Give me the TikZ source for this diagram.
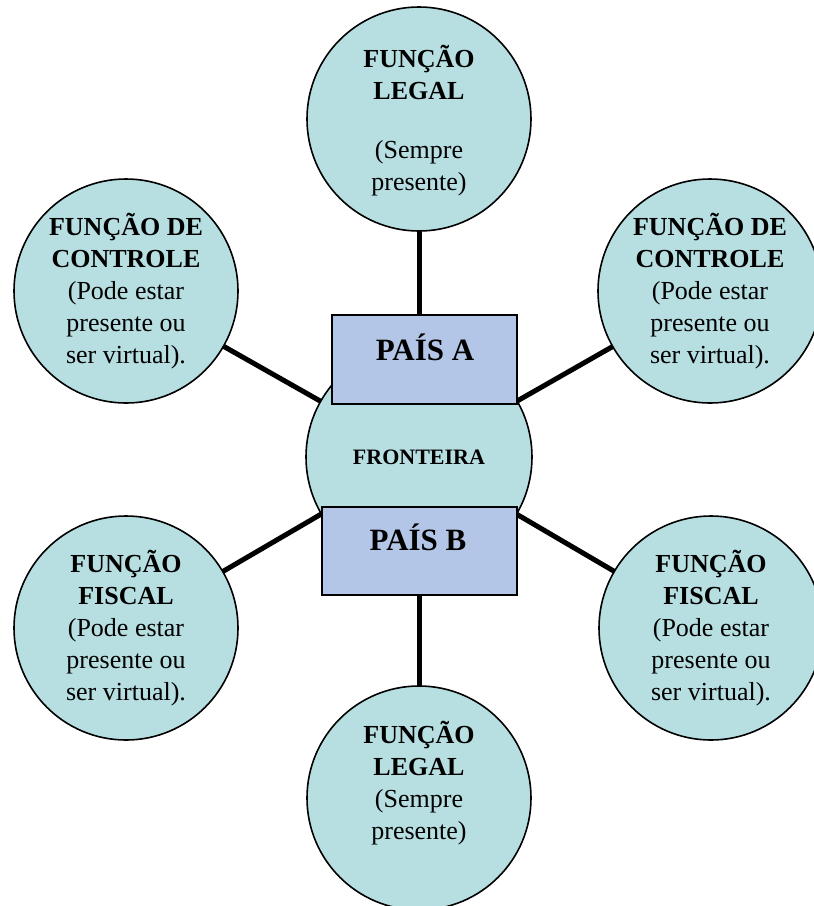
\documentclass[tikz,border=0pt]{standalone}
\usepackage{fontspec}
\setmainfont{Liberation Serif}
\usetikzlibrary{positioning,backgrounds}
\definecolor{circfill}{HTML}{B7DFE1}
\definecolor{boxfill}{HTML}{B4C6E7}
\tikzset{funcao/.style={circle, draw, line width=1.6pt, fill=circfill, minimum size=224pt, inner sep=0pt}}
\tikzset{texto/.style={align=center, inner sep=0pt, font=\fontsize{26}{32}\selectfont}}
\tikzset{pais/.style={rectangle, draw, line width=1.6pt, fill=boxfill, inner sep=0pt}}
\tikzset{ligacao/.style={line width=5pt}}

\begin{document}
\begin{tikzpicture}[x=1pt,y=-1pt]
      \useasboundingbox (0,0) rectangle (814,906);
      % circulos das funcoes
      \node[funcao] (legalA) at (419,119) {};
      \node[funcao] (controleE) at (126,291) {};
      \node[funcao] (controleD) at (710,291) {};
      \node[funcao] (fiscalE) at (126,628) {};
      \node[funcao] (fiscalD) at (711,628) {};
      \node[funcao] (legalB) at (419,798) {};
      \node[funcao, minimum size=226pt] (fronteira) at (419,457) {};
      % ligacoes
      \begin{scope}[on background layer]
        \foreach \f in {legalA,controleE,controleD,fiscalE,fiscalD,legalB}
          \draw[ligacao] (\f.center) -- (fronteira.center);
      \end{scope}
      % paises
      \node[pais, minimum width=185pt, minimum height=89pt] (paisA) at (424.5,359.5) {};
      \node[pais, minimum width=195pt, minimum height=88pt] (paisB) at (419.5,551) {};
      % textos
      \node[texto] (legalAtxt) at (419,121) {\textbf{FUNÇÃO}\\\textbf{LEGAL}\\[27pt](Sempre\\presente)};
      \node[texto] (controleEtxt) at (controleE) {\textbf{FUNÇÃO DE}\\\textbf{CONTROLE}\\(Pode estar\\presente ou\\ser virtual).};
      \node[texto] (controleDtxt) at (controleD) {\textbf{FUNÇÃO DE}\\\textbf{CONTROLE}\\(Pode estar\\presente ou\\ser virtual).};
      \node[texto] (fiscalEtxt) at (fiscalE) {\textbf{FUNÇÃO}\\\textbf{FISCAL}\\(Pode estar\\presente ou\\ser virtual).};
      \node[texto] (fiscalDtxt) at (fiscalD) {\textbf{FUNÇÃO}\\\textbf{FISCAL}\\(Pode estar\\presente ou\\ser virtual).};
      \node[texto] (legalBtxt) at (419,783) {\textbf{FUNÇÃO}\\\textbf{LEGAL}\\(Sempre\\presente)};
      \node[font=\fontsize{22}{26}\selectfont\bfseries] (frontxt) at (fronteira) {FRONTEIRA};
      \node[font=\fontsize{31}{36}\selectfont\bfseries] (paisAtxt) at (425,347) {PAÍS A};
      \node[font=\fontsize{31}{36}\selectfont\bfseries] (paisBtxt) at (418,537) {PAÍS B};
\end{tikzpicture}
\end{document}
